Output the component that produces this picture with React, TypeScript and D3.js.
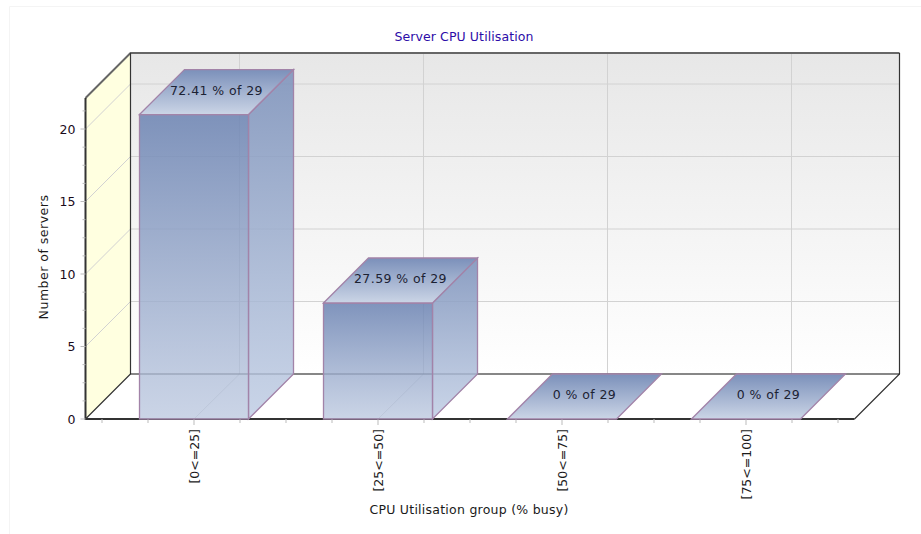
import React from "react";
import * as d3 from "d3";

const title = "Server CPU Utilisation";
const xTitle = "CPU Utilisation group (% busy)";
const yTitle = "Number of servers";
const categories = ["[0<=25]", "[25<=50]", "[50<=75]", "[75<=100]"];
const counts = [21, 8, 0, 0];
const labels = ["72.41 % of 29", "27.59 % of 29", "0 % of 29", "0 % of 29"];
const yMajor = [0, 5, 10, 15, 20];
const yMinor = [1.25, 2.5, 3.75, 6.25, 7.5, 8.75, 11.25, 12.5, 13.75, 16.25, 17.5, 18.75, 21.25];
const xMinor = [-0.5, -0.25, 0, 0.25, 0.5, 0.75, 1, 1.25, 1.5, 1.75, 2, 2.25, 2.5, 2.75, 3, 3.25, 3.5];

const W = 921, H = 534;
const FONT = "'DejaVu Sans', Verdana, sans-serif";
const DEPTH = 45;
const y = d3.scaleLinear().domain([0, 22.14]).range([419, 98]);
const center = d3.scaleLinear().domain([0, 3]).range([194, 746]);
const BAND = 109;
const LEFT = 85.5, RIGHT = 854.5;
const FLOOR = y(0), TOP = y(y.domain()[1]);
const poly = (p: [number, number][]) => d3.line()(p) + "Z";
const INK = "#111";
const GRID = "#d2d2d2";

export default function App() {
  const backL = LEFT + DEPTH, backR = RIGHT + DEPTH, backB = FLOOR - DEPTH, backT = TOP - DEPTH;
  return (
    <svg width={W} height={H} style={{ position: "absolute", left: 0, top: 0, fontFamily: FONT, fontSize: 12.5 }}>
      <defs>
        <linearGradient id="wall" x1="0" x2="0" y1="0" y2="1">
          <stop offset="0" stopColor="#e7e7e7" />
          <stop offset="1" stopColor="#ffffff" />
        </linearGradient>
        <linearGradient id="bar" x1="0" x2="0" y1="0" y2="1">
          <stop offset="0" stopColor="#6f86b4" stopOpacity="0.88" />
          <stop offset="1" stopColor="#b9c6de" stopOpacity="0.75" />
        </linearGradient>
        <linearGradient id="side" x1="0" x2="0" y1="0" y2="1">
          <stop offset="0" stopColor="#7d92bb" stopOpacity="0.88" />
          <stop offset="1" stopColor="#bccae2" stopOpacity="0.8" />
        </linearGradient>
        <linearGradient id="topFace" x1="0" x2="0" y1="0" y2="1">
          <stop offset="0" stopColor="#7b90ba" />
          <stop offset="1" stopColor="#cbd5e6" />
        </linearGradient>
      </defs>
      <rect width={W} height={H} fill="#fff" />
      <path d={`M9.5 534V6.5H921`} fill="none" stroke="#f4f4f4" />

      <rect x={backL} y={backT} width={backR - backL} height={backB - backT} fill="url(#wall)" />
      <path d={poly([[LEFT, FLOOR], [backL, backB], [backL, backT], [LEFT, TOP]])} fill="#ffffe0" />
      <path d={poly([[LEFT, FLOOR], [backL, backB], [backR, backB], [RIGHT, FLOOR]])} fill="#fff" />

      {yMajor.slice(1).map(v => (
        <path key={v} d={`M${LEFT} ${y(v)}L${backL} ${y(v) - DEPTH}H${backR}`} fill="none" stroke={GRID} />
      ))}
      {categories.map((_, i) => (
        <path key={i} d={`M${center(i)} ${FLOOR}L${center(i) + DEPTH + 0.5} ${backB}V${backT}`} fill="none" stroke={GRID} />
      ))}

      <path d={`M${LEFT} ${TOP}L${backL} ${backT}H${backR}`} fill="none" stroke="#666" strokeWidth={2} />
      <path d={`M${backR} ${backT}V${backB}L${RIGHT} ${FLOOR}`} fill="none" stroke="#333" strokeWidth={1.2} />
      <path d={`M${LEFT} ${FLOOR}L${backL} ${backB}V${backT}`} fill="none" stroke="#333" strokeWidth={1.2} />
      <path d={`M${backL} ${backB}H${backR}`} stroke={INK} strokeWidth={1.2} />
      <path d={`M${LEFT} ${TOP}V${FLOOR}H${RIGHT}`} fill="none" stroke="#333" strokeWidth={2} />

      {xMinor.map(t => (
        <line key={t} x1={center(t)} x2={center(t)} y1={FLOOR} y2={FLOOR + (Number.isInteger(t) ? 6 : 4)} stroke="#bbb" />
      ))}
      {yMajor.map(v => <line key={v} x1={LEFT - 5} x2={LEFT} y1={y(v)} y2={y(v)} stroke="#bbb" />)}
      {yMinor.map(v => <line key={v} x1={LEFT - 3} x2={LEFT} y1={y(v)} y2={y(v)} stroke="#bbb" />)}

      {counts.map((c, i) => {
        const l = center(i) - BAND / 2, r = center(i) + BAND / 2, t = y(c);
        return (
          <g key={i} stroke="#a283a8" strokeWidth={1.3}>
            {c > 0 && (
              <>
                <path d={poly([[r, t], [r + DEPTH, t - DEPTH], [r + DEPTH, FLOOR - DEPTH], [r, FLOOR]])} fill="url(#side)" />
                <rect x={l} y={t} width={BAND} height={FLOOR - t} fill="url(#bar)" />
              </>
            )}
            <path d={poly([[l, t], [l + DEPTH, t - DEPTH], [r + DEPTH, t - DEPTH], [r, t]])} fill="url(#topFace)" />
            <text x={center(i) + DEPTH / 2} y={t - 20} textAnchor="middle" stroke="none" fill="#1c2233" letterSpacing={0.42}>{labels[i]}</text>
          </g>
        );
      })}

      {yMajor.map(v => (
        <text key={v} x={LEFT - 10} y={y(v) + 4.5} textAnchor="end" fill="#1a0a1a">{v}</text>
      ))}
      {categories.map((c, i) => (
        <text key={c} transform={`translate(${center(i) + 4.5},429) rotate(-90)`} textAnchor="end" fill="#1a1a1a">{c}</text>
      ))}
      <text x={464} y={41} textAnchor="middle" fill="#2c0ca8" letterSpacing={0.1}>{title}</text>
      <text x={469} y={514} textAnchor="middle" fill="#1a1a1a" letterSpacing={0.25}>{xTitle}</text>
      <text transform="translate(48,257) rotate(-90)" textAnchor="middle" fill="#1a1a1a" letterSpacing={0.5}>{yTitle}</text>
    </svg>
  );
}
